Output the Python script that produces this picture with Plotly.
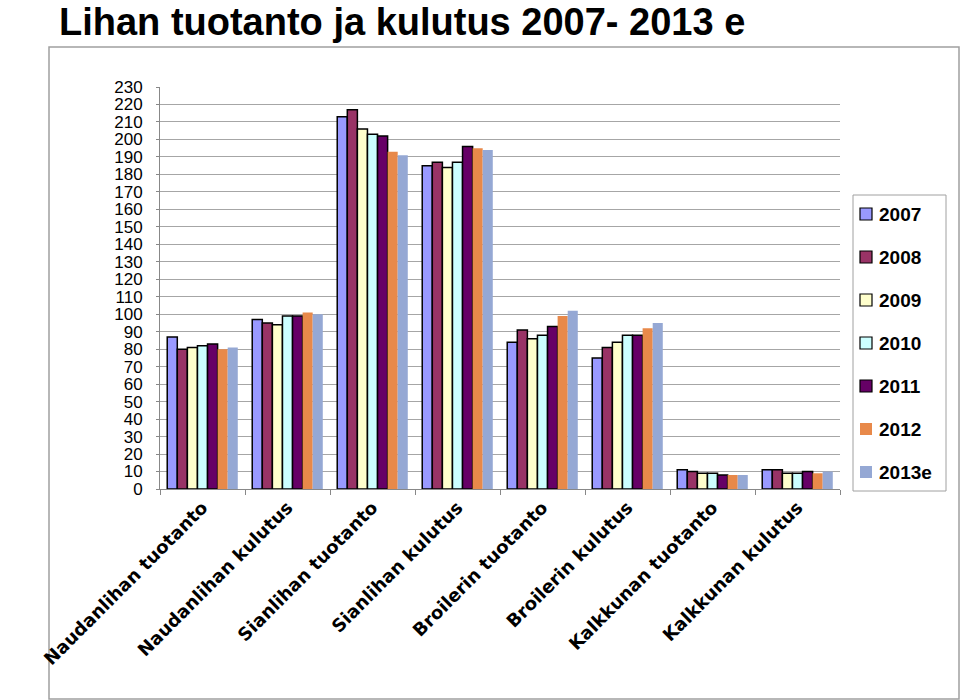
import plotly.graph_objects as go

categories = ["Naudanlihan tuotanto", "Naudanlihan kulutus", "Sianlihan tuotanto",
              "Sianlihan kulutus", "Broilerin tuotanto", "Broilerin kulutus",
              "Kalkkunan tuotanto", "Kalkkunan kulutus"]
years = ["2007", "2008", "2009", "2010", "2011", "2012", "2013e"]
v2007 = [87, 97, 213, 185, 84, 75, 11, 11]
v2008 = [80, 95, 217, 187, 91, 81, 10, 11]
v2009 = [81, 94, 206, 184, 86, 84, 9, 9]
v2010 = [82, 99, 203, 187, 88, 88, 9, 9]
v2011 = [83, 99, 202, 196, 93, 88, 8, 10]
v2012 = [80, 101, 193, 195, 99, 92, 8, 9]
v2013e = [81, 100, 191, 194, 102, 95, 8, 10]
series = [v2007, v2008, v2009, v2010, v2011, v2012, v2013e]
colors = ["#9999FF", "#993366", "#FFFFCC", "#CCFFFF", "#660066", "#E8894A", "#95A8D4"]
outlined = [True, True, True, True, True, False, False]

fig = go.Figure()
for name, vals, col, ol in zip(years, series, colors, outlined):
    fig.add_trace(go.Bar(
        x=categories, y=vals, name=name, showlegend=False,
        marker=dict(color=col, line=dict(color="black" if ol else col, width=1.5 if ol else 0)),
    ))

W, H = 960, 700
L, R, T, B = 160, 120, 87, 211
pw, ph = W - L - R, H - T - B

def px_x(x):
    return (x - L) / pw

def px_y(y):
    return (H - B - y) / ph

shapes = [
    dict(type="rect", xref="paper", yref="paper",
         x0=px_x(49), x1=px_x(959), y0=px_y(699), y1=px_y(47),
         line=dict(color="#A0A0A0", width=1.5), fillcolor="rgba(0,0,0,0)", layer="below"),
    dict(type="rect", xref="paper", yref="paper",
         x0=px_x(853), x1=px_x(946), y0=px_y(491), y1=px_y(195),
         line=dict(color="#A0A0A0", width=1), fillcolor="white", layer="above"),
]
annotations = [dict(text="<b>Lihan tuotanto ja kulutus 2007- 2013 e</b>",
                    xref="paper", yref="paper", x=px_x(58), y=px_y(0),
                    xanchor="left", yanchor="top", showarrow=False, borderpad=0,
                    font=dict(size=38, family="Liberation Sans, Arial, sans-serif"))]
for i, (name, col, ol) in enumerate(zip(years, colors, outlined)):
    cy = 214 + 43 * i
    shapes.append(dict(type="rect", xref="paper", yref="paper",
                       x0=px_x(860), x1=px_x(872), y0=px_y(cy + 6), y1=px_y(cy - 6),
                       fillcolor=col, line=dict(color="black" if ol else col, width=1.2 if ol else 0),
                       layer="above"))
    annotations.append(dict(text="<b>" + name + "</b>", xref="paper", yref="paper",
                            x=px_x(877), y=px_y(cy), xanchor="left", yanchor="middle",
                            showarrow=False,
                            font=dict(size=19, family="Liberation Sans, Arial, sans-serif")))

fig.update_layout(
    width=W, height=H,
    margin=dict(l=L, r=R, t=T, b=B, autoexpand=False),
    paper_bgcolor="white", plot_bgcolor="white",
    barmode="group", bargap=0.17, bargroupgap=0,
    font=dict(family="Liberation Sans, Arial, sans-serif", color="black"),
    showlegend=False,
    xaxis=dict(
        tickangle=-45, ticks="outside", tickson="boundaries", ticklen=5,
        tickcolor="#888888", showline=True, linecolor="#888888",
        tickfont=dict(size=18, family="DejaVu Sans, Liberation Sans, sans-serif", weight="bold"),
        showgrid=False, automargin=False,
    ),
    yaxis=dict(
        range=[0, 230], dtick=10, tick0=0, showgrid=True, gridcolor="#A6A6A6",
        gridwidth=1, showline=True, linecolor="#888888", ticks="outside",
        ticklen=3, tickcolor="#888888", ticklabelstandoff=10,
        tickfont=dict(size=17, family="Liberation Sans, Arial, sans-serif"),
        zeroline=False, automargin=False,
    ),
    shapes=shapes,
    annotations=annotations,
)

fig.write_html("out.html", config={"displayModeBar": False},
               post_script="document.body.style.margin='0';document.body.style.padding='0';")
